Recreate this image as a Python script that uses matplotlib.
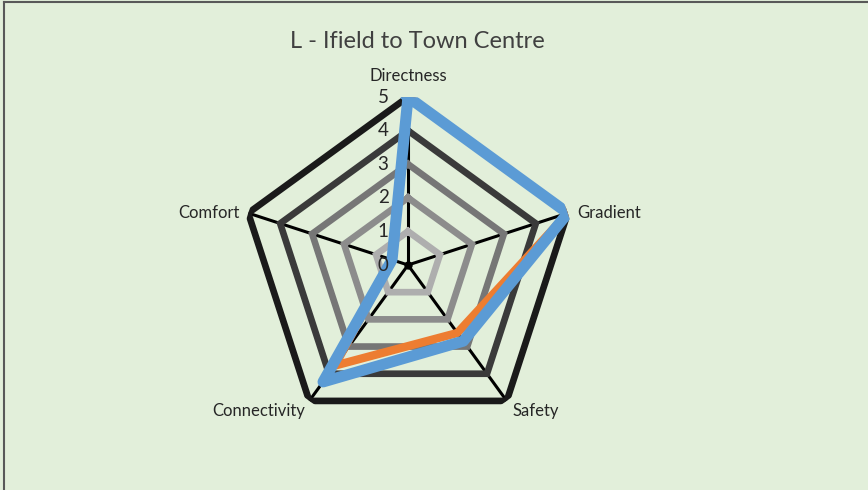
import numpy as np
import matplotlib
matplotlib.use("Agg")
import matplotlib.pyplot as plt
from matplotlib.lines import Line2D

plt.rcParams['font.family'] = ['Lato', 'DejaVu Sans']

title = "L - Ifield to Town Centre"
categories = ["Directness", "Gradient", "Safety", "Connectivity", "Comfort"]
series_blue = [5, 5, 2.8, 4.3, 0.5]
series_orange = [5, 5, 2.5, 3.7, 0.5]
ring_values = [1, 2, 3, 4, 5]
tick_values = [0, 1, 2, 3, 4, 5]

ring_colors = ["#aeaeae", "#8c8c8c", "#767676", "#3a3a3a", "#1a1a1a"]
bg = "#e2efda"

W, H = 868, 490
fig = plt.figure(figsize=(W / 100, H / 100), dpi=100, facecolor=bg)

cx, cy, R = 408, 265, 168
ax = fig.add_axes([(cx - R) / W, (H - cy - R) / H, 2 * R / W, 2 * R / H], projection='polar')
ax.set_facecolor('none')
ax.set_theta_offset(np.pi / 2)
ax.set_theta_direction(-1)
ax.set_ylim(0, 5)
ax.grid(False)
ax.set_xticks([])
ax.set_yticks([])
ax.spines['polar'].set_visible(False)

n = len(categories)
theta = np.arange(n) * 2 * np.pi / n
theta_c = np.append(theta, theta[0])

# spokes
for t in theta:
    ax.plot([t, t], [0, 5], color="#000000", lw=2.2, solid_capstyle='butt', zorder=2)

# rings
for v, c in zip(ring_values, ring_colors):
    ax.plot(theta_c, [v] * (n + 1), color=c, lw=4.8, solid_joinstyle='miter', zorder=3)

# center dot
ax.plot([0], [0], 'o', color='#000000', ms=5, zorder=4)

def closed(vals):
    return list(vals) + [vals[0]]

ax.plot(theta_c, closed(series_orange), color="#ed7d31", lw=6, solid_joinstyle='round', zorder=5)
ax.plot(theta_c, closed(series_blue), color="#5b9bd5", lw=8, solid_joinstyle='round', zorder=6)

# radial tick labels
for v in tick_values:
    ax.annotate(str(v), xy=(0, v), xytext=(-14, 0), textcoords='offset points',
                ha='right', va='center', fontsize=13.5, color='#262626', zorder=7)

# category labels
offsets = [((0, 15), 'center'), ((7, 0), 'left'), ((4, -7), 'left'), ((-3, -7), 'right'), ((-6, 0), 'right')]
for t, lab, (off, ha) in zip(theta, categories, offsets):
    ax.annotate(lab, xy=(t, 5), xytext=off, textcoords='offset points',
                ha=ha, va='center', fontsize=12, color='#262626', annotation_clip=False)

fig.text(417 / W, 1 - 42 / H, title, ha='center', va='center', fontsize=17, color='#404040')

# chart border (top and left visible)
fig.add_artist(Line2D([4 / W, 4 / W], [0, 1 - 2 / H], transform=fig.transFigure, color='#595959', lw=1.5))
fig.add_artist(Line2D([4 / W, 1], [1 - 2 / H, 1 - 2 / H], transform=fig.transFigure, color='#595959', lw=1.5))

fig.savefig("out.png", dpi=100, facecolor=bg)
